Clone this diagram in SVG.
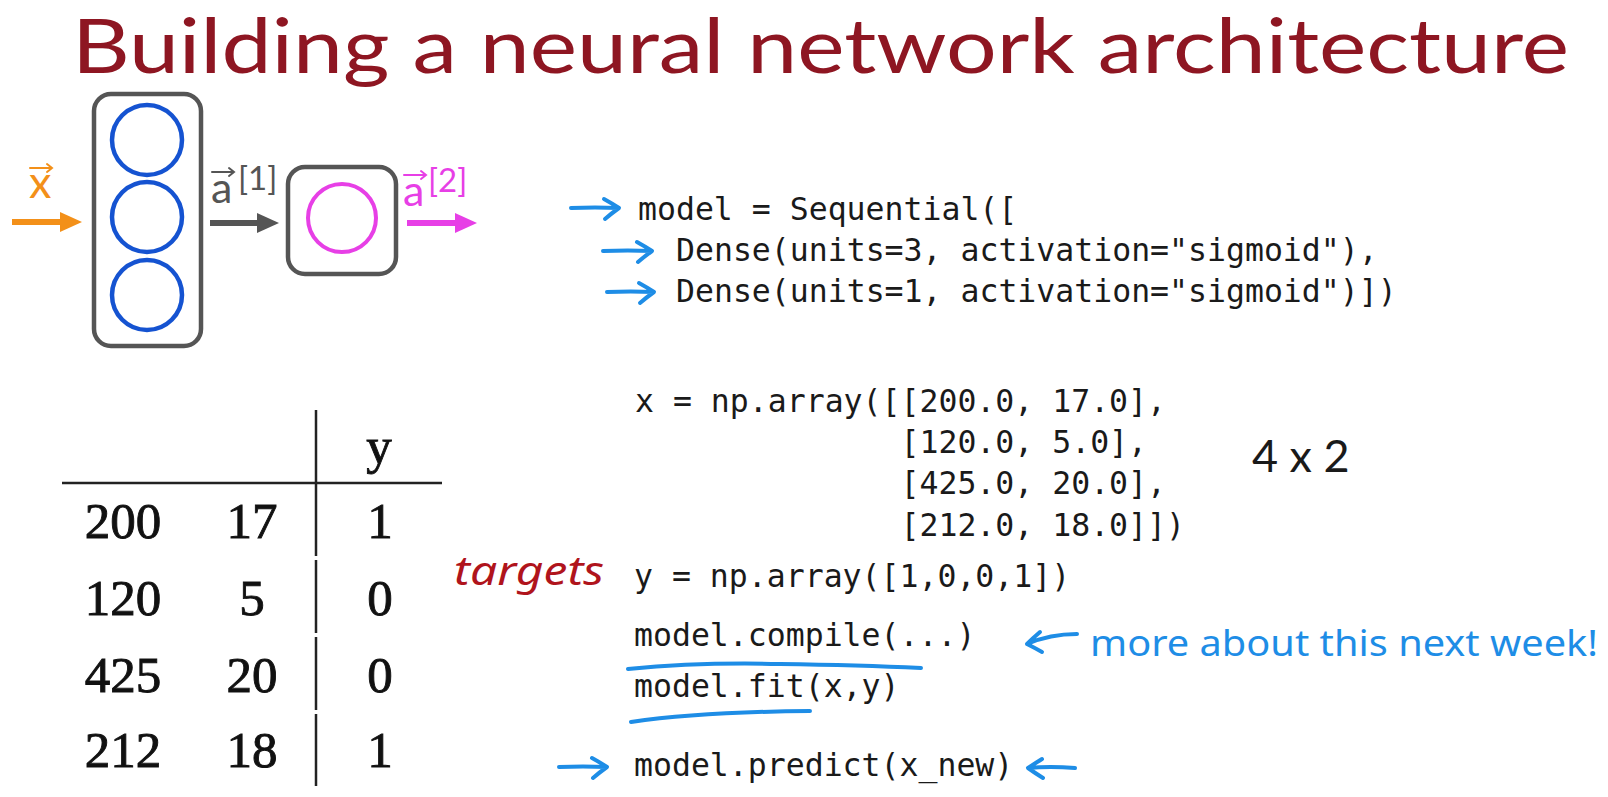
<svg xmlns="http://www.w3.org/2000/svg" width="1608" height="797" viewBox="0 0 1608 797">
  <style>
    .title { font-family: Lato, "Liberation Sans", sans-serif; font-size: 75px; fill: #8e1622; }
    .code { font-family: "DejaVu Sans Mono", "Liberation Mono", monospace; font-size: 31.5px; fill: #1a1a1a; }
    .tbl { font-family: "Liberation Serif", "DejaVu Serif", serif; font-size: 51px; fill: #111; stroke: #111; stroke-width: 0.9; text-anchor: middle; }
    .box { fill: none; stroke: #555; stroke-width: 4.5; }
    .n1 { fill: none; stroke: #1553d1; stroke-width: 4.5; }
    .n2 { fill: none; stroke: #e73fe6; stroke-width: 4; }
    .lbl { font-family: Lato, "Liberation Sans", sans-serif; }
    .hand { fill: none; stroke: #1e8de6; stroke-width: 4; stroke-linecap: round; stroke-linejoin: round; }
    .handtxt { font-family: "Noto Sans", "Liberation Sans", sans-serif; fill: #1e8de6; }
    .rule { stroke: #222; stroke-width: 2.5; }
    .vec { fill: none; stroke-width: 2; stroke-linecap: round; }
  </style>
  <defs>
    <marker id="hOrange" markerUnits="userSpaceOnUse" viewBox="0 0 22 20" refX="10" refY="10" markerWidth="22" markerHeight="20" orient="auto">
      <path d="M0,0 L22,10 L0,20 Z" fill="#f39019"/>
    </marker>
    <marker id="hGray" markerUnits="userSpaceOnUse" viewBox="0 0 22 20" refX="10" refY="10" markerWidth="22" markerHeight="20" orient="auto">
      <path d="M0,0 L22,10 L0,20 Z" fill="#555"/>
    </marker>
    <marker id="hMag" markerUnits="userSpaceOnUse" viewBox="0 0 22 20" refX="10" refY="10" markerWidth="22" markerHeight="20" orient="auto">
      <path d="M0,0 L22,10 L0,20 Z" fill="#e73fe6"/>
    </marker>
  </defs>
  <rect width="1608" height="797" fill="#ffffff"/>

  <g id="title">
    <text class="title" x="72" y="73" textLength="1497" lengthAdjust="spacingAndGlyphs">Building a neural network architecture</text>
  </g>

  <g id="layer1">
    <rect class="box" x="94" y="94" width="107" height="252" rx="17"/>
    <circle class="n1" cx="147" cy="140" r="35"/>
    <circle class="n1" cx="147" cy="217" r="35"/>
    <circle class="n1" cx="147" cy="295" r="35"/>
  </g>

  <g id="layer2">
    <rect class="box" x="288" y="167" width="108" height="107" rx="17"/>
    <circle class="n2" cx="342" cy="218" r="34"/>
  </g>

  <g id="label-x">
    <text class="lbl" x="29" y="198" font-size="45" fill="#f39019">x</text>
    <path class="vec" stroke="#f39019" d="M30,168 H52 M47,164 L52,168 L47,172"/>
  </g>
  <g id="label-a1">
    <text class="lbl" x="211" y="203" font-size="43" fill="#555">a</text>
    <path class="vec" stroke="#555" d="M212,172 H234 M229,168 L234,172 L229,176"/>
    <text class="lbl" x="238" y="190" font-size="33" fill="#555">[1]</text>
  </g>
  <g id="label-a2">
    <text class="lbl" x="403" y="206" font-size="43" fill="#e73fe6">a</text>
    <path class="vec" stroke="#e73fe6" d="M404,175 H426 M421,171 L426,175 L421,179"/>
    <text class="lbl" x="428" y="192" font-size="33" fill="#e73fe6">[2]</text>
  </g>

  <g id="connectors">
    <line x1="12" y1="222" x2="70" y2="222" stroke="#f39019" stroke-width="6" marker-end="url(#hOrange)"/>
    <line x1="210" y1="223" x2="267" y2="223" stroke="#555" stroke-width="6" marker-end="url(#hGray)"/>
    <line x1="407" y1="223" x2="465" y2="223" stroke="#e73fe6" stroke-width="6" marker-end="url(#hMag)"/>
  </g>

  <g id="table">
    <line class="rule" x1="316" y1="410" x2="316" y2="556"/>
    <line class="rule" x1="316" y1="560" x2="316" y2="633"/>
    <line class="rule" x1="316" y1="637" x2="316" y2="710"/>
    <line class="rule" x1="316" y1="714" x2="316" y2="786"/>
    <line class="rule" x1="62" y1="483" x2="442" y2="483"/>
    <text class="tbl" x="379" y="463">y</text>
    <text class="tbl" x="123" y="538">200</text>
    <text class="tbl" x="252" y="538">17</text>
    <text class="tbl" x="380" y="538">1</text>
    <text class="tbl" x="123" y="615">120</text>
    <text class="tbl" x="252" y="615">5</text>
    <text class="tbl" x="380" y="615">0</text>
    <text class="tbl" x="123" y="692">425</text>
    <text class="tbl" x="252" y="692">20</text>
    <text class="tbl" x="380" y="692">0</text>
    <text class="tbl" x="123" y="767">212</text>
    <text class="tbl" x="252" y="767">18</text>
    <text class="tbl" x="380" y="767">1</text>
  </g>

  <g id="code-model">
    <text class="code" x="638" y="220">model = Sequential([</text>
    <text class="code" x="676" y="261">Dense(units=3, activation="sigmoid"),</text>
    <text class="code" x="676" y="302">Dense(units=1, activation="sigmoid")])</text>
  </g>

  <g id="code-data">
    <text class="code" x="635" y="412">x = np.array([[200.0, 17.0],</text>
    <text class="code" x="635" y="453" xml:space="preserve">              [120.0, 5.0],</text>
    <text class="code" x="635" y="494" xml:space="preserve">              [425.0, 20.0],</text>
    <text class="code" x="635" y="536" xml:space="preserve">              [212.0, 18.0]])</text>
    <text class="lbl" x="1252" y="472" font-size="45" fill="#1a1a1a">4 x 2</text>
    <text class="code" x="634" y="587">y = np.array([1,0,0,1])</text>
  </g>

  <g id="code-train">
    <text class="code" x="634" y="646">model.compile(...)</text>
    <text class="code" x="634" y="697">model.fit(x,y)</text>
    <text class="code" x="634" y="776">model.predict(x_new)</text>
  </g>

  <g id="annotations">
    <text x="454" y="585" font-family="Noto Sans, Liberation Sans, sans-serif" font-size="40" font-style="italic" fill="#b0141c" textLength="150" lengthAdjust="spacingAndGlyphs">targets</text>
    <path class="hand" d="M571,208 Q595,207 619,208 M604,199 Q613,204 619,208 Q612,213 605,219"/>
    <path class="hand" d="M603,251 Q628,250 652,251 M637,242 Q646,247 652,251 Q645,256 638,262"/>
    <path class="hand" d="M607,292 Q631,291 654,292 M639,283 Q648,288 654,292 Q647,297 640,303"/>
    <path class="hand" d="M628,669 Q700,662 780,664 Q860,665 921,668"/>
    <path class="hand" d="M631,722 Q700,712 810,711"/>
    <path class="hand" d="M1077,634 Q1050,634 1027,644 M1040,632 Q1033,638 1027,644 Q1035,648 1042,652"/>
    <text class="handtxt" x="1090" y="656" font-size="36" textLength="508" lengthAdjust="spacingAndGlyphs">more about this next week!</text>
    <path class="hand" d="M559,767 Q583,766 607,767 M592,758 Q601,763 607,767 Q600,772 593,778"/>
    <path class="hand" d="M1075,768 Q1050,766 1028,768 M1042,759 Q1034,764 1028,768 Q1035,773 1043,778"/>
  </g>
</svg>
